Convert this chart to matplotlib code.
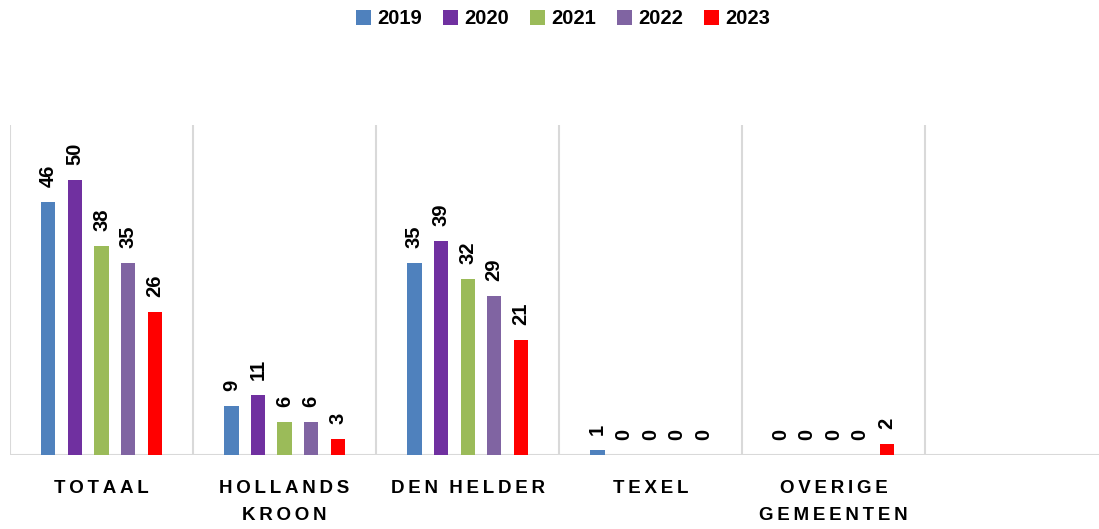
import numpy as np
import matplotlib.pyplot as plt
from matplotlib.patches import Patch

# data
categories = ['TOTAAL', 'HOLLANDS\nKROON', 'DEN HELDER', 'TEXEL', 'OVERIGE\nGEMEENTEN', '']
years = ['2019', '2020', '2021', '2022', '2023']
v2019 = [46, 9, 35, 1, 0]
v2020 = [50, 11, 39, 0, 0]
v2021 = [38, 6, 32, 0, 0]
v2022 = [35, 6, 29, 0, 0]
v2023 = [26, 3, 21, 0, 2]
series = [v2019, v2020, v2021, v2022, v2023]
colors = ['#4F81BD', '#7030A0', '#9BBB59', '#8064A2', '#FF0000']

plt.rcParams['font.family'] = ['Liberation Sans', 'DejaVu Sans']

fig = plt.figure(figsize=(10.99, 5.29), dpi=100)
ax = fig.add_axes([10/1099, 74/529, 1089/1099, 330/529])

x = np.arange(len(v2019))
step = 0.145
width = 0.077
for i, (vals, c) in enumerate(zip(series, colors)):
    xs = x + (i - 2) * step
    ax.bar(xs, vals, width=width, color=c, zorder=3)
    for xi, v in zip(xs, vals):
        ax.annotate(str(v), (xi, v), xytext=(0, 10.5), textcoords='offset points',
                    rotation=90, ha='center', va='bottom',
                    fontsize=14.5, fontweight='bold', color='black')

# category separators
for b in np.arange(-0.5, len(categories), 1.0):
    ax.axvline(b, color='#D9D9D9', lw=1.5, zorder=1)
ax.axhline(0, color='#D9D9D9', lw=1.5, zorder=2)

ax.set_xlim(-0.5, 5.45)
ax.set_ylim(0, 60)
for s in ax.spines.values():
    s.set_visible(False)
ax.set_xticks([])
ax.set_yticks([])

# letter spaced category labels
sp = '\u2009'
for i, cat in enumerate(categories):
    spaced = '\n'.join((sp * 3).join(sp.join(w) for w in line.split(' ')) for line in cat.split('\n'))
    ax.text(i, -0.075, spaced, transform=ax.get_xaxis_transform(), ha='center', va='top',
            fontsize=13.5, fontweight='bold', linespacing=1.75)

handles = [Patch(facecolor=c, label=y) for c, y in zip(colors, years)]
fig.legend(handles=handles, loc='center', bbox_to_anchor=(563/1099, 1 - 19/529), ncol=5,
           frameon=False, prop={'weight': 'bold', 'size': 14.5},
           handlelength=0.75, handleheight=0.75, handletextpad=0.3, columnspacing=1.05)

fig.savefig('out.png', dpi=100)
